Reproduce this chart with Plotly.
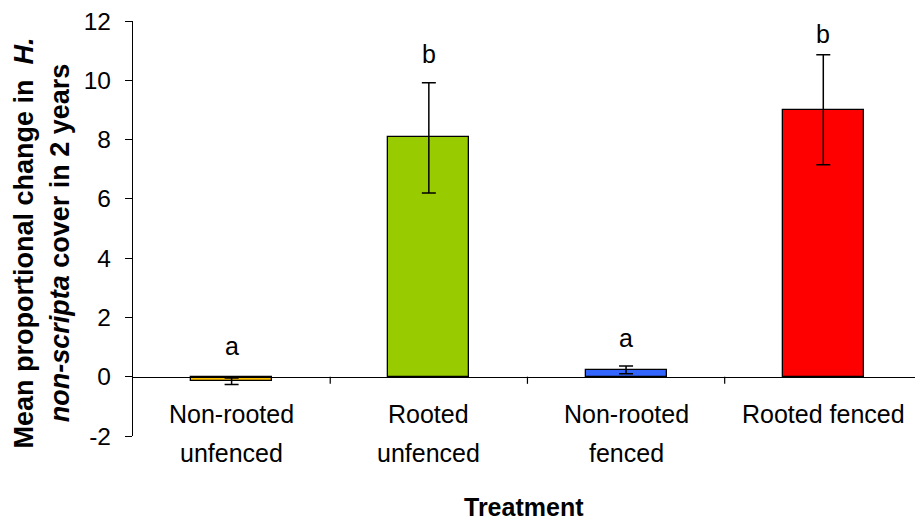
import plotly.graph_objects as go

categories = ["Non-rooted unfenced", "Rooted unfenced", "Non-rooted fenced", "Rooted fenced"]
label_line1 = ["Non-rooted", "Rooted", "Non-rooted", "Rooted fenced"]
label_line2 = ["unfenced", "unfenced", "fenced", ""]
means = [-0.14, 8.08, 0.22, 8.99]
err_plus = [0.1, 1.84, 0.14, 1.87]
err_minus = [0.12, 1.88, 0.12, 1.84]
letters = ["a", "b", "a", "b"]
letter_y = [1.05, 10.9, 1.3, 11.55]
colors = ["#FFC000", "#99CC00", "#3366FF", "#FF0000"]
ytick_vals = [-2, 0, 2, 4, 6, 8, 10, 12]
ytick_text = ["-2", "0", "2", "4", "6", "8", "10", "12"]

FONT = "Liberation Sans, Arial, sans-serif"
YMIN, YMAX = -2, 12

fig = go.Figure()
fig.add_trace(go.Bar(
    x=list(range(len(categories))), y=means, width=0.41,
    marker=dict(color=colors, line=dict(color="black", width=1.3)),
    error_y=dict(type="data", symmetric=False, array=err_plus, arrayminus=err_minus,
                 color="black", thickness=1.5, width=7),
    showlegend=False, hovertext=categories,
))

for i, (t, yv) in enumerate(zip(letters, letter_y)):
    fig.add_annotation(x=i, y=yv, text=t, showarrow=False, xref="x", yref="y",
                       xanchor="center", yanchor="middle",
                       font=dict(family=FONT, size=25, color="black"))

# category labels (two lines with wide spacing, as in the original)
for i, (l1, l2) in enumerate(zip(label_line1, label_line2)):
    fig.add_annotation(x=i, y=0.054, xref="x", yref="paper", text=l1, showarrow=False,
                       xanchor="center", yanchor="middle",
                       font=dict(family=FONT, size=25, color="black"))
    if l2:
        fig.add_annotation(x=i, y=-0.040, xref="x", yref="paper", text=l2, showarrow=False,
                           xanchor="center", yanchor="middle",
                           font=dict(family=FONT, size=25, color="black"))

fig.add_annotation(x=0.5, y=-0.171, xref="paper", yref="paper", text="<b>Treatment</b>",
                   showarrow=False, xanchor="center", yanchor="middle",
                   font=dict(family=FONT, size=25, color="black"))
fig.add_annotation(x=-0.117, y=0.465, xref="paper", yref="paper", textangle=-90,
                   xanchor="center", yanchor="middle",
                   text="<b>Mean proportional change in  <i>H.</i><br><i>non-scripta</i> cover in 2 years</b>",
                   showarrow=False, font=dict(family=FONT, size=27, color="black"))

fig.update_layout(
    width=915, height=520,
    margin=dict(l=133, r=0, t=21, b=84),
    plot_bgcolor="white", paper_bgcolor="white",
    bargap=0,
    xaxis=dict(
        range=[-0.5, 3.465], anchor="free", position=(0 - YMIN) / (YMAX - YMIN),
        showline=True, linecolor="black", linewidth=1.2,
        ticks="", showticklabels=False, showgrid=False, zeroline=False,
    ),
    yaxis=dict(
        range=[YMIN, YMAX], tickvals=ytick_vals, ticktext=ytick_text,
        showline=True, linecolor="black", linewidth=1.2,
        ticks="outside", ticklen=7, tickcolor="black", tickwidth=1.2,
        ticklabelstandoff=9,
        showgrid=False, zeroline=False,
        tickfont=dict(family=FONT, size=24.5, color="black"),
    ),
)

# boundary tick marks on the x axis at y=0
for b in [0.5, 1.5, 2.5]:
    fig.add_shape(type="line", xref="x", yref="y", x0=b, x1=b, y0=0, y1=-0.24,
                  line=dict(color="black", width=1.2))

fig.write_html("out.html")
